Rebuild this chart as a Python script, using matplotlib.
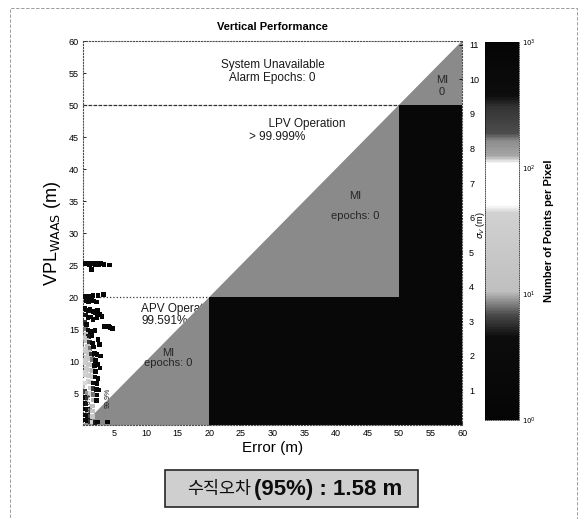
import matplotlib
matplotlib.use("Agg")
import matplotlib.pyplot as plt
from matplotlib.colors import LinearSegmentedColormap, LogNorm
from matplotlib.patches import Rectangle, Polygon
import matplotlib.cm as cm

plt.rcParams['font.family'] = ['Liberation Sans', 'Noto Sans CJK KR', 'DejaVu Sans']

# alarm limits (m) and plot extent
apv_val = 20
lpv_val = 50
axis_max = 60
sigma_scale = 5.4

# binned epochs: error (m), VPL (m), number of points per pixel
err_pts = [0.4, 0.7, 1.0, 1.3, 1.6, 1.9, 2.2, 2.5, 2.8, 3.3, 4.2, 1.3,
           0.3, 0.6, 0.9, 1.2, 1.6, 2.4, 3.2, 0.5, 0.9, 1.3, 1.7, 2.1,
           0.2, 0.5, 0.8, 1.1, 1.4, 1.7, 2.0, 2.3, 2.6, 3.0, 0.4, 0.8, 1.2, 1.6, 2.2,
           3.3, 3.6, 4.0, 4.3, 4.7,
           0.3, 0.6, 0.4, 0.8, 1.2, 0.5, 0.9, 1.4, 0.6, 1.0, 1.5, 0.7, 1.1, 1.7,
           0.5, 0.9, 1.3, 1.8, 2.2, 0.6, 1.0, 1.5, 2.0, 0.5, 0.9, 1.3, 1.8, 2.3,
           0.6, 1.0, 1.5, 2.0, 0.5, 0.9, 1.4, 1.9, 2.4, 0.4, 0.8, 1.2, 1.7, 2.2,
           0.3, 0.7, 1.1, 1.6, 2.1, 2.5,
           0.3, 0.7, 1.1, 1.6, 2.2, 0.3, 0.7, 1.1, 1.6, 2.1, 0.3, 0.7, 1.1, 1.5,
           0.3, 0.7, 1.1, 1.5, 0.3, 0.7, 1.1, 1.5, 0.3, 0.7, 1.1, 1.5, 1.9, 2.3, 3.9,
           0.2, 0.2, 0.2, 0.2, 0.2, 2.6, 2.8, 2.7, 2.4, 1.9]
vpl_pts = [25.2, 25.2, 25.1, 25.2, 25.2, 25.1, 25.2, 25.1, 25.2, 25.1, 25.0, 24.3,
           20.1, 20.0, 20.1, 19.9, 20.2, 20.2, 20.4, 19.4, 19.3, 19.5, 19.4, 19.2,
           18.2, 18.0, 17.9, 18.1, 17.8, 17.7, 17.6, 17.9, 17.3, 17.0, 17.2, 16.8, 16.9, 16.5, 16.8,
           15.4, 15.5, 15.4, 15.2, 15.1,
           16.0, 15.7, 15.0, 14.8, 14.6, 14.2, 13.8, 14.0, 13.2, 13.0, 12.8, 12.3, 12.0, 12.2,
           11.5, 11.3, 11.0, 11.2, 11.0, 10.6, 10.4, 10.2, 10.1, 9.7, 9.5, 9.4, 9.3, 9.5,
           8.8, 8.6, 8.5, 8.4, 7.9, 7.7, 7.6, 7.5, 7.3, 7.0, 6.8, 6.7, 6.6, 6.5,
           6.1, 5.9, 5.8, 5.7, 5.6, 5.5,
           5.2, 5.0, 4.9, 4.8, 4.7, 4.3, 4.2, 4.0, 3.9, 3.8, 3.4, 3.3, 3.2, 3.0,
           2.5, 2.4, 2.3, 2.2, 1.6, 1.5, 1.4, 1.3, 0.8, 0.7, 0.6, 0.5, 0.4, 0.5, 0.5,
           13.6, 11.8, 9.9, 8.1, 6.6, 12.6, 10.8, 8.9, 13.4, 14.8]
cnt_pts = [2, 1, 2, 3, 2, 2, 1, 2, 1, 1, 1, 1,
           2, 3, 2, 2, 1, 1, 1, 2, 3, 2, 1, 1,
           3, 4, 3, 2, 3, 2, 2, 1, 1, 1, 5, 3, 2, 2, 1,
           1, 2, 1, 1, 1,
           6, 3, 8, 4, 2, 12, 5, 2, 14, 6, 2, 16, 8, 2,
           20, 14, 6, 2, 1, 25, 18, 8, 2, 22, 20, 15, 3, 1,
           30, 24, 10, 2, 35, 28, 18, 3, 1, 60, 40, 20, 4, 1,
           120, 70, 30, 6, 2, 1,
           250, 150, 45, 8, 2, 500, 250, 60, 10, 3, 700, 350, 90, 12,
           900, 500, 150, 15, 1000, 600, 200, 20, 1000, 800, 300, 30, 5, 2, 1,
           18, 24, 30, 40, 45, 1, 2, 1, 1, 2]

x_ticks = [5, 10, 15, 20, 25, 30, 35, 40, 45, 50, 55, 60]
y_ticks = [5, 10, 15, 20, 25, 30, 35, 40, 45, 50, 55, 60]
sigma_ticks = [1, 2, 3, 4, 5, 6, 7, 8, 9, 10, 11]
cbar_ticks = [1, 10, 100, 1000]
cbar_labels = [r'$10^0$', r'$10^1$', r'$10^2$', r'$10^3$']

# grayscale rendition of the scanned colour map
cmap = LinearSegmentedColormap.from_list('scan', [
    (0.00, '0.02'), (0.22, '0.05'), (0.28, '0.30'), (0.34, '0.75'),
    (0.55, '0.82'), (0.57, '1.0'), (0.68, '1.0'), (0.70, '0.65'),
    (0.74, '0.55'), (0.76, '0.30'), (0.83, '0.20'), (0.86, '0.05'),
    (1.00, '0.02')])
norm = LogNorm(1, 1000)

fig = plt.figure(figsize=(5.87, 5.19), dpi=100)
ax = fig.add_axes([0.1414, 0.181, 0.646, 0.740])

# misleading information (gray) and hazardous (black) regions
gray_poly = [(0, 0), (apv_val, 0), (apv_val, apv_val), (lpv_val, apv_val),
             (lpv_val, lpv_val), (axis_max, lpv_val), (axis_max, axis_max)]
black_poly = [(apv_val, 0), (axis_max, 0), (axis_max, lpv_val), (lpv_val, lpv_val),
              (lpv_val, apv_val), (apv_val, apv_val)]
ax.add_patch(Polygon(gray_poly, closed=True, facecolor='#8a8a8a', edgecolor='none', zorder=2))
ax.add_patch(Polygon(black_poly, closed=True, facecolor='#080808', edgecolor='none', zorder=2))

ax.plot([0, apv_val], [apv_val, apv_val], color='0.2', lw=0.9, ls=':', zorder=3)
ax.plot([0, lpv_val], [lpv_val, lpv_val], color='0.2', lw=0.9, ls=(0, (3, 1)), zorder=3)

ax.scatter(err_pts, vpl_pts, c=cnt_pts, cmap=cmap, norm=norm, marker='s', s=11,
           linewidths=0, zorder=4)

# region annotations
ax.text(30, 55.2, 'System Unavailable\nAlarm Epochs: 0', ha='center', va='center',
        fontsize=8.5, color='0.1', zorder=5, linespacing=1.1)
ax.text(56.8, 53, 'MI\n0', ha='center', va='center', fontsize=8, color='0.15', zorder=5)
ax.text(26.3, 46, '      LPV Operation\n> 99.999%', ha='left', va='center',
        fontsize=8.5, color='0.1', zorder=5, linespacing=1.1)
ax.text(43, 34.2, 'MI\n\nepochs: 0', ha='center', va='center', fontsize=8,
        color='0.15', zorder=5, linespacing=1.0)
ax.text(9.2, 17.2, 'APV Operation\n99.591%', ha='left', va='center', fontsize=8.5,
        color='0.1', zorder=1, linespacing=0.9)
ax.text(13.4, 10.5, 'MI\nepochs: 0', ha='center', va='center', fontsize=8,
        color='0.15', zorder=5, linespacing=1.0)
ax.text(0.9, 3.4, '68.0%', rotation=90, ha='center', va='center', fontsize=5,
        color='0.1', zorder=5)
ax.text(4.0, 4.2, '99.9%', rotation=90, ha='center', va='center', fontsize=5,
        color='0.1', zorder=5)

ax.set_xlim(0, axis_max)
ax.set_ylim(0, axis_max)
ax.set_xticks(x_ticks)
ax.set_yticks(y_ticks)
ax.tick_params(direction='in', length=2.5, width=0.6, labelsize=6.5, pad=3)
for sp in ax.spines.values():
    sp.set_linestyle(':')
    sp.set_linewidth(0.8)
    sp.set_color('0.3')

ax.set_title('Vertical Performance', fontsize=8, fontweight='bold', pad=8)
ax.set_xlabel('Error (m)', fontsize=11, labelpad=2)
ax.set_ylabel(r'VPL$_{\mathrm{WAAS}}$ (m)', fontsize=13, labelpad=4)

# sigma scale on the right
ax2 = ax.twinx()
ax2.set_ylim(0, axis_max / sigma_scale)
ax2.set_yticks(sigma_ticks)
ax2.tick_params(direction='in', length=2.5, width=0.6, labelsize=6.5, pad=5)
ax2.set_ylabel(r'$\sigma_V$ (m)', fontsize=6.5)
ax2.yaxis.set_label_coords(1.032, 0.52)
for sp in ax2.spines.values():
    sp.set_visible(False)

# colour bar
cax = fig.add_axes([0.826, 0.190, 0.058, 0.729])
sm = cm.ScalarMappable(norm=norm, cmap=cmap)
cb = fig.colorbar(sm, cax=cax)
cb.set_ticks(cbar_ticks)
cb.set_ticklabels(cbar_labels)
cb.ax.minorticks_off()
cb.ax.tick_params(labelsize=5, length=0, pad=2)
cb.outline.set_linewidth(0.5)
cb.outline.set_linestyle(':')
cb.set_label('Number of Points per Pixel', fontsize=8, fontweight='bold', labelpad=6)

# summary caption
fig.patches.append(Rectangle((165 / 587, 1 - 507 / 519), 253 / 587, 37 / 519,
                             transform=fig.transFigure, facecolor='#cfcfcf',
                             edgecolor='0.15', lw=1.2, zorder=1))
fig.text(0.428, 1 - 489 / 519, '수직오차', ha='right', va='center', fontsize=12.5,
         family=['Noto Sans CJK KR'], color='0.05', zorder=2)
fig.text(0.432, 1 - 489 / 519, '(95%) : 1.58 m', ha='left', va='center', fontsize=16,
         fontweight='bold', color='0.05', zorder=2)

# dashed scan frame
fig.patches.append(Rectangle((10 / 587, -0.02), 567 / 587, 1 - 8 / 519 + 0.02,
                             transform=fig.transFigure, facecolor='none',
                             edgecolor='0.55', lw=0.6, ls=(0, (4, 2)), zorder=0))

fig.savefig('out.png', dpi=100)
